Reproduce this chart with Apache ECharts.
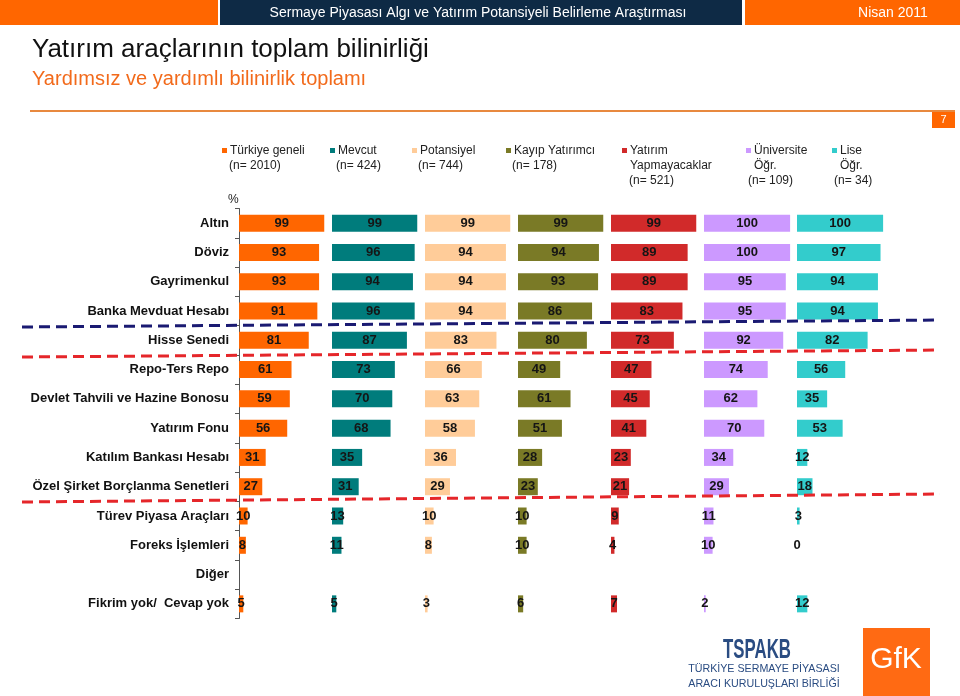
<!DOCTYPE html>
<html><head><meta charset="utf-8">
<script src="https://cdn.jsdelivr.net/npm/echarts@6/dist/echarts.min.js"></script>
<style>html,body{margin:0;padding:0;background:#fff}#c{width:960px;height:696px}</style>
</head><body><div id="c"></div>
<script>
const categories = ['Altın','Döviz','Gayrimenkul','Banka Mevduat Hesabı','Hisse Senedi','Repo-Ters Repo','Devlet Tahvili ve Hazine Bonosu','Yatırım Fonu','Katılım Bankası Hesabı','Özel Şirket Borçlanma Senetleri','Türev Piyasa Araçları','Foreks İşlemleri','Diğer','Fikrim yok/  Cevap yok'];
const groupNames = ['Türkiye geneli','Mevcut','Potansiyel','Kayıp Yatırımcı','Yatırım Yapmayacaklar','Üniversite Öğr.','Lise Öğr.'];
const groupLegendLines = [['Türkiye geneli','(n= 2010)'],['Mevcut','(n= 424)'],['Potansiyel','(n= 744)'],['Kayıp Yatırımcı','(n= 178)'],['Yatırım','Yapmayacaklar','(n= 521)'],['Üniversite','Öğr.','(n= 109)'],['Lise','Öğr.','(n= 34)']];
const turkiyeGeneli = [99,93,93,91,81,61,59,56,31,27,10,8,null,5];
const mevcut        = [99,96,94,96,87,73,70,68,35,31,13,11,null,5];
const potansiyel    = [99,94,94,94,83,66,63,58,36,29,10,8,null,3];
const kayipYatirimci= [99,94,93,86,80,49,61,51,28,23,10,10,null,6];
const yapmayacaklar = [99,89,89,83,73,47,45,41,23,21,9,4,null,7];
const universite    = [100,100,95,95,92,74,62,70,34,29,11,10,null,2];
const lise          = [100,97,94,94,82,56,35,53,12,18,3,0,null,12];
const seriesValues = [turkiyeGeneli,mevcut,potansiyel,kayipYatirimci,yapmayacaklar,universite,lise];
const colors = ['#FF6600','#007C7C','#FFCC99','#7A7A26','#D12A2A','#CC99FF','#33CCCC'];

const FONT = '"Liberation Sans", Arial, sans-serif';
const colLeft0 = 239, colStep = 93, gridTop = 208.5, gridH = 410;

const grids = [], xAxes = [], yAxes = [], series = [];
for (let i = 0; i < 7; i++) {
  grids.push({left: colLeft0 + i*colStep, top: gridTop, width: colStep, height: gridH});
  xAxes.push({type:'value', gridIndex:i, min:0, max:108, show:false});
  yAxes.push({type:'category', gridIndex:i, data:categories, inverse:true,
    show: i===0,
    axisLine:{show:i===0, lineStyle:{color:'#555', width:1}},
    axisTick:{show:i===0, length:4, lineStyle:{color:'#555'}},
    axisLabel:{show:i===0, margin:10, fontFamily:FONT, fontSize:13, fontWeight:'bold', color:'#111'}
  });
  series.push({type:'bar', name:groupNames[i], xAxisIndex:i, yAxisIndex:i, data:seriesValues[i],
    barWidth:17, itemStyle:{color:colors[i]}, silent:true,
    label:{show:true, position:'inside', color:'#151515', fontFamily:FONT, fontSize:13, fontWeight:'bold', textBorderWidth:0}
  });
}

const graphic = [];
// header
graphic.push({type:'rect', shape:{x:0,y:0,width:218,height:25}, style:{fill:'#FF6600'}});
graphic.push({type:'rect', shape:{x:220,y:0,width:522,height:25}, style:{fill:'#0E2A45'}});
graphic.push({type:'rect', shape:{x:745,y:0,width:215,height:25}, style:{fill:'#FF6600'}});
graphic.push({type:'text', x:478, y:13, style:{text:'Sermaye Piyasası Algı ve Yatırım Potansiyeli Belirleme Araştırması', fill:'#fff', font:'14px '+FONT, textAlign:'center', textVerticalAlign:'middle'}});
graphic.push({type:'text', x:893, y:13, style:{text:'Nisan 2011', fill:'#fff', font:'14px '+FONT, textAlign:'center', textVerticalAlign:'middle'}});
// titles
graphic.push({type:'text', x:32, y:50, style:{text:'Yatırım araçlarının toplam bilinirliği', fill:'#111', font:'26px '+FONT, textVerticalAlign:'middle'}});
graphic.push({type:'text', x:32, y:79, style:{text:'Yardımsız ve yardımlı bilinirlik toplamı', fill:'#F26A1B', font:'20px '+FONT, textVerticalAlign:'middle'}});
graphic.push({type:'line', shape:{x1:30,y1:111,x2:955,y2:111}, style:{stroke:'#E8893F', lineWidth:2}});
graphic.push({type:'rect', shape:{x:932,y:112,width:23,height:16}, style:{fill:'#FF6600'}});
graphic.push({type:'text', x:943.5, y:120, style:{text:'7', fill:'#fff', font:'11px '+FONT, textAlign:'center', textVerticalAlign:'middle'}});
// legend
const legX = [222, 330, 412, 506, 622, 746, 832];
for (let i = 0; i < 7; i++) {
  graphic.push({type:'rect', shape:{x:legX[i], y:148, width:5, height:5}, style:{fill:colors[i]}});
  const lines = groupLegendLines[i];
  lines.forEach((t, k) => {
    let tx = legX[i] + 8;
    if (k === lines.length - 1 && t.startsWith('(')) tx = legX[i] + (i===4 ? 7 : (i>=5 ? 2 : 6));
    if (i === 0 && k === 1) tx = legX[i] + 7;
    graphic.push({type:'text', x:tx, y:151 + k*15, style:{text:t, fill:'#222', font:'12px '+FONT, textVerticalAlign:'middle'}});
  });
}
graphic.push({type:'text', x:228, y:200, style:{text:'%', fill:'#222', font:'12px '+FONT, textVerticalAlign:'middle'}});
// dashed separators
graphic.push({type:'line', shape:{x1:22,y1:327,x2:940,y2:320}, style:{stroke:'#1A1A72', lineWidth:3, lineDash:[11,6]}, z:10});
graphic.push({type:'line', shape:{x1:22,y1:357,x2:940,y2:350}, style:{stroke:'#E5262A', lineWidth:3, lineDash:[11,6]}, z:10});
graphic.push({type:'line', shape:{x1:22,y1:502,x2:940,y2:494}, style:{stroke:'#E5262A', lineWidth:3, lineDash:[11,6]}, z:10});
// logos
graphic.push({type:'text', x:757, y:650, scaleX:0.6, style:{text:'TSPAKB', fill:'#2A4C82', font:'bold 28px '+FONT, textAlign:'center', textVerticalAlign:'middle'}});
graphic.push({type:'text', x:764, y:669, style:{text:'TÜRKİYE SERMAYE PİYASASI', fill:'#2A4C82', font:'10.7px '+FONT, textAlign:'center', textVerticalAlign:'middle'}});
graphic.push({type:'text', x:764, y:684, style:{text:'ARACI KURULUŞLARI BİRLİĞİ', fill:'#2A4C82', font:'10.7px '+FONT, textAlign:'center', textVerticalAlign:'middle'}});
graphic.push({type:'rect', shape:{x:863,y:628,width:67,height:68}, style:{fill:'#FF6A13'}});
graphic.push({type:'text', x:896, y:660, style:{text:'GfK', fill:'#fff', font:'30px '+FONT, textAlign:'center', textVerticalAlign:'middle'}});

const chart = echarts.init(document.getElementById('c'), null, {renderer:'canvas'});
chart.setOption({animation:false, grid:grids, xAxis:xAxes, yAxis:yAxes, series:series, graphic:graphic});
</script></body></html>
